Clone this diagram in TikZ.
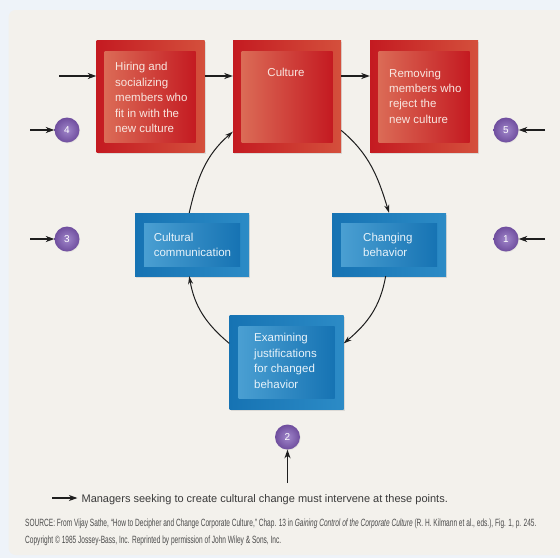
\documentclass[tikz,border=0pt]{standalone}
\usepackage{fontspec}
\setmainfont{Liberation Sans}
\newfontfamily\srcfont[FakeStretch=0.625]{Liberation Sans}
\usetikzlibrary{arrows.meta,shadows}
\definecolor{bgout}{HTML}{EEF3F9}
\definecolor{panel}{HTML}{F3F1EC}
\definecolor{redA}{HTML}{C41A21}
\definecolor{redB}{HTML}{DB6B56}
\definecolor{redC}{HTML}{D4503C}
\definecolor{blueA}{HTML}{1673B3}
\definecolor{blueB}{HTML}{4A9FD2}
\definecolor{blueC}{HTML}{2C8BC6}
\definecolor{purpA}{HTML}{6F4E9E}
\definecolor{purpB}{HTML}{A086CA}
\definecolor{ink}{HTML}{1E1E1E}
\definecolor{txtRed}{HTML}{F8E6E0}
\definecolor{txtBlue}{HTML}{E8F3FA}
\definecolor{legText}{HTML}{3A3A3A}
\definecolor{srcText}{HTML}{4A4A4A}
\tikzset{
  shad/.style={drop shadow={opacity=0.2,shadow xshift=1pt,shadow yshift=-1.5pt}},
  cshad/.style={drop shadow={opacity=0.12,shadow xshift=0.6pt,shadow yshift=-0.8pt}},
  redbox/.style={rectangle, inner sep=0pt, minimum width=108pt, minimum height=112pt,
    left color=redA, right color=redC, shad},
  redin/.style={rectangle, inner sep=0pt, minimum width=91pt, minimum height=91pt,
    left color=redB, right color=redA},
  bluebox/.style={rectangle, inner sep=0pt, minimum width=114pt,
    left color=blueA, right color=blueC, shad},
  bluein/.style={rectangle, inner sep=0pt, minimum width=96pt,
    left color=blueB, right color=blueA},
  btxt/.style={inner sep=0pt, align=left, font=\fontsize{11.5}{15.4}\selectfont, text=txtRed},
  btxtb/.style={inner sep=0pt, align=left, font=\fontsize{11.5}{15.4}\selectfont, text=txtBlue},
  num/.style={circle, inner sep=0pt, minimum size=25pt, inner color=purpB, outer color=purpA,
    text=white, font=\fontsize{10}{11}\selectfont, cshad},
  arr/.style={-{Stealth[length=8.5pt,width=6pt,inset=2.5pt]}, line width=1.1pt, draw=ink},
  loopar/.style={-{Stealth[length=8pt,width=5pt,inset=2.5pt]}, line width=1pt, draw=ink}
}
\begin{document}
\begin{tikzpicture}[x=1pt,y=1pt]
\useasboundingbox (0,0) rectangle (560,-558);
\clip (0,0) rectangle (560,-558);
\fill[bgout] (0,0) rectangle (560,-558);
\fill[panel, rounded corners=7pt] (8.6,-10) rectangle (580,-555);

% red boxes
\node[redbox] (hire) at (150.5,-96.5) {};
\node[redin] (hireIn) at (150.2,-97.2) {};
\node[btxt, anchor=north west] (hireT) at (115,-62.3) {Hiring and\\socializing\\members who\\fit in with the\\new culture};
\node[redbox] (cult) at (287,-96.5) {};
\node[redin] (cultIn) at (287,-97.2) {};
\node[btxt, anchor=north] (cultT) at (286,-68) {Culture};
\node[redbox] (remv) at (424,-96.5) {};
\node[redin] (remvIn) at (424,-97.2) {};
\node[btxt, anchor=north west] (remvT) at (389,-68.5) {Removing\\members who\\reject the\\new culture};

% blue boxes
\node[bluebox, minimum height=63pt] (comm) at (192,-244.5) {};
\node[bluein, minimum height=43pt] (commIn) at (192,-244.5) {};
\node[btxtb, anchor=north west] (commT) at (153.6,-232.7) {Cultural\\communication};
\node[bluebox, minimum height=63pt] (chg) at (389,-244.5) {};
\node[bluein, minimum height=43pt] (chgIn) at (389,-244.5) {};
\node[btxtb, anchor=north west] (chgT) at (363,-232.7) {Changing\\behavior};
\node[bluebox, minimum height=94pt] (exam) at (286.5,-362) {};
\node[bluein, minimum height=72pt] (examIn) at (286.5,-362) {};
\node[btxtb, anchor=north west] (examT) at (254,-333.3) {Examining\\justifications\\for changed\\behavior};

% intervention points
\node[num] (n4) at (67,-130) {4};
\node[num] (n5) at (506,-130) {5};
\node[num] (n3) at (67,-239) {3};
\node[num] (n1) at (506,-239) {1};
\node[num] (n2) at (287.5,-437) {2};

\coordinate (a4) at (30,-130);
\coordinate (a5) at (545,-130);
\coordinate (a3) at (30,-239);
\coordinate (a1) at (545,-239);
\coordinate (a2) at (287.5,-483);
\draw[arr] (a4) -- (n4);
\draw[arr] (a5) -- (n5);
\draw[arr] (a3) -- (n3);
\draw[arr] (a1) -- (n1);
\draw[arr] (a2) -- (n2);

% top row
\coordinate (a0) at (59,-76);
\draw[arr] (a0) -- (a0 -| hire.west);
\draw[arr] (hire.east |- a0) -- (cult.west |- a0);
\draw[arr] (cult.east |- a0) -- (remv.west |- a0);

% loop
\draw[loopar] (cult.-32) to[out=-40,in=107] (chg.north);
\draw[loopar] (chg.-96) to[out=-100,in=40] (exam.18);
\draw[loopar] (exam.162) to[out=140,in=-80] (comm.-95);
\draw[loopar] (comm.95) to[out=77,in=-139] (cult.213);

% legend
\coordinate (lg) at (52,-498);
\node[anchor=base west, inner sep=0pt, font=\fontsize{11}{13}\selectfont, text=legText] (legT) at (81.4,-502) {Managers seeking to create cultural change must intervene at these points.};
\draw[arr, shorten >=4pt] (lg) -- (lg -| legT.west);

% source
\node[anchor=base west, inner sep=0pt, font=\srcfont\fontsize{10.5}{12}\selectfont, text=srcText] (src1) at (25,-526.8) {SOURCE: From Vijay Sathe, “How to Decipher and Change Corporate Culture,” Chap. 13 in \textit{Gaining Control of the Corporate Culture} (R. H. Kilmann et al., eds.), Fig. 1, p. 245.};
\node[anchor=base west, inner sep=0pt, font=\srcfont\fontsize{10.5}{12}\selectfont, text=srcText] (src2) at (25,-543.8) {Copyright © 1985 Jossey-Bass, Inc. Reprinted by permission of John Wiley \& Sons, Inc.};
\end{tikzpicture}
\end{document}
